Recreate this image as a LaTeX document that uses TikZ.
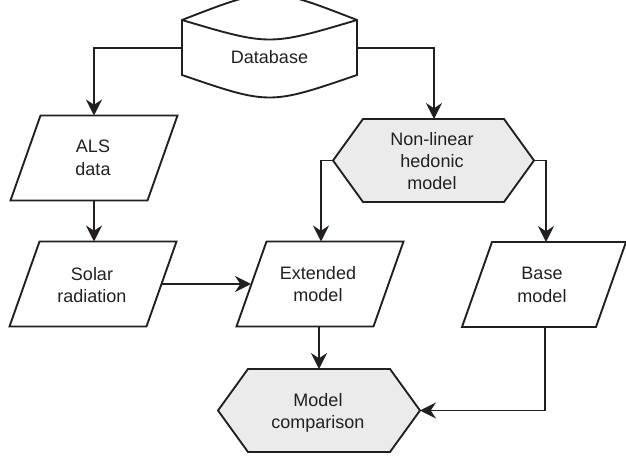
\documentclass[tikz,border=0pt]{standalone}
\usepackage{fontspec}
\setmainfont{Liberation Sans}
\usetikzlibrary{arrows.meta}
\definecolor{linecol}{HTML}{231F20}
\definecolor{hexfill}{HTML}{EBEBEB}
\newcommand\mypara[3]{%
  \draw[shapeline, fill=white] ({#1-#3/2+15},{#2-42.5}) -- ({#1+#3/2+15},{#2-42.5})
    -- ({#1+#3/2-15},{#2+42.5}) -- ({#1-#3/2-15},{#2+42.5}) -- cycle;}
\newcommand\myhex[4]{%
  \draw[shapeline, fill=hexfill] (#1,{(#3+#4)/2}) -- ({#1+30},#3) -- ({#2-30},#3)
    -- (#2,{(#3+#4)/2}) -- ({#2-30},#4) -- ({#1+30},#4) -- cycle;}
\begin{document}
\begin{tikzpicture}[x=0.75pt,y=-0.75pt,
  shapeline/.style={draw=linecol, line width=1.4pt, line join=miter},
  lbl/.style={align=center, font=\fontsize{13.5}{16.8}\selectfont, text=linecol, inner sep=0pt},
  conn/.style={draw=linecol, line width=1.4pt, -{Stealth[length=12pt,width=12pt,inset=4pt]}}]
\useasboundingbox[fill=white] (0,0) rectangle (626,456);

% Database (drum)
\draw[shapeline, fill=white] (182,20) .. controls (269.5,-14) .. (357,20) -- (357,75)
  .. controls (269.5,105) .. (182,75) -- cycle;
\draw[shapeline] (182,20) .. controls (269.5,46) .. (357,20);
\node[lbl] (db) at (269.5,57) {Database};

% parallelograms
\mypara{94}{158}{137}
\node[lbl] (als) at (93,158) {ALS\\data};
\mypara{93}{284}{137}
\node[lbl] (sol) at (92,285) {Solar\\radiation};
\mypara{320}{284}{137}
\node[lbl] (ext) at (318,284) {Extended\\model};
\mypara{544}{284.5}{134}
\node[lbl] (base) at (542,285) {Base\\model};

% hexagons
\myhex{333}{534}{119}{202}
\node[lbl] (nlh) at (432,161) {Non-linear\\hedonic\\model};
\myhex{218}{420}{369}{452}
\node[lbl] (mc) at (318,413) {Model\\comparison};

% connection points
\coordinate (dbL) at (182,48);
\coordinate (dbR) at (357,48);
\coordinate (alsT) at (94,115.5);
\coordinate (alsB) at (94,200.5);
\coordinate (solT) at (94,241.5);
\coordinate (solR) at (162,284);
\coordinate (extL) at (251,284);
\coordinate (extT) at (321,241.5);
\coordinate (extB) at (319,326.5);
\coordinate (nlhT) at (434,119);
\coordinate (nlhL) at (333,160.5);
\coordinate (nlhR) at (534,160.5);
\coordinate (baseT) at (546,242);
\coordinate (baseB) at (545,327);
\coordinate (mcT) at (319,369);
\coordinate (mcR) at (420,410.5);

% connectors
\draw[conn] (dbL) -| (alsT);
\draw[conn] (dbR) -| (nlhT);
\draw[conn] (alsB) -- (solT);
\draw[conn] (solR) -- (extL);
\draw[conn] (nlhL) -| (extT);
\draw[conn] (nlhR) -| (baseT);
\draw[conn] (extB) -- (mcT);
\draw[conn] (baseB) |- (mcR);
\end{tikzpicture}
\end{document}
